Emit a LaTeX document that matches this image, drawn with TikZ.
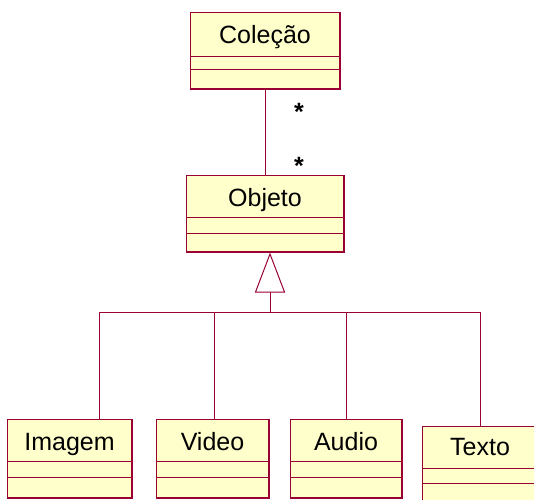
\documentclass[tikz,border=0pt]{standalone}
\usepackage{fontspec}
\setmainfont{Liberation Sans}
\definecolor{umlline}{RGB}{153,0,51}
\definecolor{umlfill}{RGB}{255,255,204}
\tikzset{
  classbox/.style={draw=umlline, fill=umlfill, line width=1pt, rectangle, inner sep=0pt, outer sep=0pt, anchor=north west},
  classname/.style={font=\fontsize{25}{30}\selectfont, inner sep=0pt, anchor=base},
  umlconn/.style={draw=umlline, line width=1pt},
  umlheavy/.style={draw=umlline, line width=1.6pt},
  mult/.style={font=\fontsize{25}{30}\selectfont\bfseries, inner sep=0pt, anchor=base},
}
% #1 name, #2 x, #3 y, #4 width, #5 height, #6 first line, #7 second line, #8 text, #9 baseline offset
\newcommand{\umlclass}[9]{%
  \node[classbox, minimum width=#4pt, minimum height=#5pt] (#1) at (#2,#3) {};
  \draw[umlconn] ([yshift=-#6pt]#1.north west) -- ([yshift=-#6pt]#1.north east);
  \draw[umlconn] ([yshift=-#7pt]#1.north west) -- ([yshift=-#7pt]#1.north east);
  \draw[umlheavy] (#1.south west) -- (#1.south east) -- (#1.north east);
  \node[classname] (#1-name) at ([yshift=-#9pt]#1.north) {#8};
}
\begin{document}
\begin{tikzpicture}[x=1pt,y=-1pt]
  \clip (0,0) rectangle (534,499);
  \fill[white] (0,0) rectangle (534,499);

  \umlclass{col}{190}{12}{150}{77}{44}{57}{Coleção}{31}
  \umlclass{obj}{186}{175}{158}{77}{42}{58}{Objeto}{31}
  \umlclass{img}{7}{419}{125}{79}{42}{58}{Imagem}{31}
  \umlclass{vid}{156}{419}{113}{79}{42}{58}{Video}{31}
  \umlclass{aud}{290}{419}{112}{79}{42}{58}{Audio}{31}
  \umlclass{txt}{422}{426}{116}{79}{42}{57}{Texto}{29}

  % association
  \draw[umlconn] (col.south) -- (obj.north);
  \node[mult] (m1) at (299,120) {*};
  \node[mult] (m2) at (299,174) {*};

  % generalization
  \coordinate (apex) at (270,254);
  \coordinate (tribase) at (270,292);
  \coordinate (hub) at (270,312);
  \draw[umlconn, fill=white] (apex) -- (255.5,292) -- (284.5,292) -- cycle;
  \draw[umlconn] (tribase) -- (hub);
  \draw[umlconn] (hub) -| ([xshift=92pt]img.north west);
  \draw[umlconn] (hub) -| ([xshift=58pt]vid.north west);
  \draw[umlconn] (hub) -| ([xshift=56pt]aud.north west);
  \draw[umlconn] (hub) -| ([xshift=58pt]txt.north west);
\end{tikzpicture}
\end{document}
